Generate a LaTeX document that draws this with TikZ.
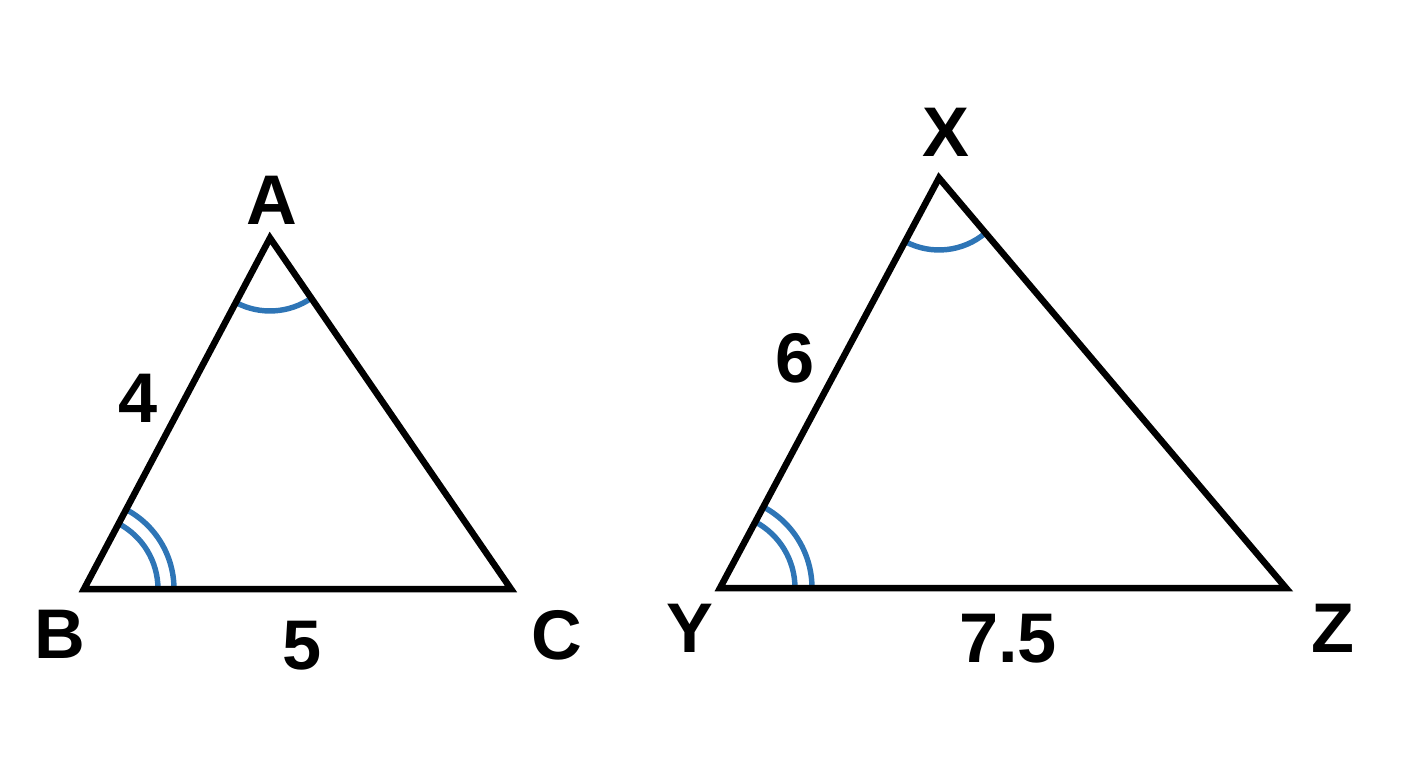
\documentclass[tikz,border=0pt]{standalone}
\usepackage{fontspec}
\setmainfont{Liberation Sans}
\usetikzlibrary{angles}
\definecolor{arcblue}{RGB}{46,117,182}
\begin{document}
\begin{tikzpicture}[x=0.02cm,y=0.02cm,
	side/.style={line width=3.7pt,black},
	anglearc/.style={draw=arcblue,line width=3.1pt},
	lbl/.style={font=\fontsize{40}{48}\selectfont\bfseries,inner sep=0pt}]
	\useasboundingbox (0,0) rectangle (1408,768);
	% small triangle
	\coordinate (A) at (270,530);
	\coordinate (B) at (84,179);
	\coordinate (C) at (511,179);
	\pic[anglearc,angle radius=1.46cm] {angle=B--A--C};
	\pic[anglearc,angle radius=1.48cm] {angle=C--B--A};
	\pic[anglearc,angle radius=1.80cm] {angle=C--B--A};
	\draw[side] (A)--(B)--(C)--cycle;
	\node[lbl] (lA) at (272,568) {A};
	\node[lbl] (lB) at (60,134) {B};
	\node[lbl] (lC) at (557,133) {C};
	\node[lbl] (l4) at (138,370) {4};
	\node[lbl] (l5) at (302,122) {5};
	% large triangle
	\coordinate (X) at (939,590);
	\coordinate (Y) at (720,180);
	\coordinate (Z) at (1286,180);
	\pic[anglearc,angle radius=1.44cm] {angle=Y--X--Z};
	\pic[anglearc,angle radius=1.50cm] {angle=Z--Y--X};
	\pic[anglearc,angle radius=1.84cm] {angle=Z--Y--X};
	\draw[side] (X)--(Y)--(Z)--cycle;
	\node[lbl] (lX) at (946,636) {X};
	\node[lbl] (lY) at (690,140) {Y};
	\node[lbl] (lZ) at (1333,140) {Z};
	\node[lbl] (l6) at (795,410) {6};
	\node[lbl] (l75) at (1008,129) {7.5};
\end{tikzpicture}
\end{document}
